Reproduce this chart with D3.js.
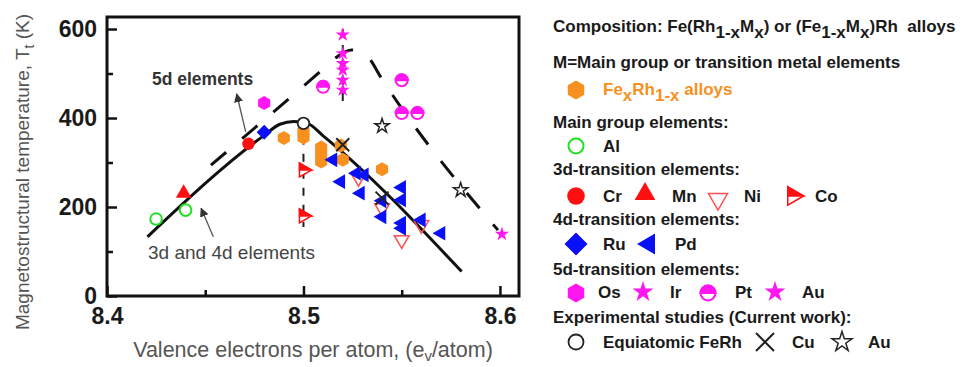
<!DOCTYPE html>
<html>
<head>
<meta charset="utf-8">
<script src="https://cdn.jsdelivr.net/npm/d3@7"></script>
<style>
  body { margin: 0; background: #fff; }
  svg { display: block; font-family: "Liberation Sans", Arial, sans-serif; }
</style>
</head>
<body>
<div></div>
<script>
const w = 965;
const h = 367;

// ---- data (valence electrons per atom, temperature K) ----
const feRhData = [[8.49, 355], [8.5, 370], [8.5, 356], [8.509, 334], [8.509, 318], [8.509, 302], [8.519, 338], [8.52, 306], [8.54, 285]];
const alData = [[8.425, 173], [8.44, 193]];
const crData = [[8.472, 342]];
const mnData = [[8.439, 231]];
const niData = [[8.528, 266], [8.54, 198], [8.55, 126], [8.56, 160]];
const coData = [[8.5, 283], [8.5, 180]];
const ruData = [[8.48, 368]];
const pdData = [[8.515, 306], [8.519, 257], [8.527, 276], [8.531, 272], [8.529, 231], [8.54, 214], [8.54, 178], [8.55, 244], [8.55, 216], [8.55, 164], [8.55, 152], [8.56, 171], [8.57, 141]];
const osData = [[8.48, 434]];
const irData = [[8.52, 587], [8.52, 545], [8.52, 523], [8.52, 508], [8.52, 485], [8.52, 463]];
const ptData = [[8.51, 470], [8.55, 485], [8.55, 411], [8.558, 411]];
const auData = [[8.601, 139]];
const equiData = [[8.5, 388]];
const cuData = [[8.52, 340], [8.54, 220]];
const auExpData = [[8.54, 382], [8.58, 238]];

// guide lines
const fit34d = [[8.4206, 133], [8.48, 361], [8.488, 386], [8.495, 392], [8.502, 388], [8.51, 360], [8.5805, 55]];
const fit5d = [[8.4529, 294], [8.51, 510], [8.517, 537], [8.5245, 553], [8.5286, 549], [8.5327, 538], [8.5396, 490], [8.599, 148]];
const coLine = [[8.5, 358], [8.5, 155]];
const irLine = [[8.52, 600], [8.52, 432]];

const xTicks = [8.4, 8.5, 8.6];
const xMinor = [8.45, 8.55];
const yTicks = [0, 200, 400, 600];
const yMinor = [100, 300, 500];

const orange = "#f7901e";
const red = "#ff1010";
const blue = "#0a10f5";
const magenta = "#ff16f0";
const green = "#22e022";

const svg = d3.select("div").append("svg").attr("width", w).attr("height", h);

const x = d3.scaleLinear().domain([8.4, 8.6097]).range([107, 519]);
const y = d3.scaleLinear().domain([0, 627]).range([296, 17]);

function shapePath(shape, r) {
  const p = d3.path();
  const poly = (pts) => {
    pts.forEach((q, i) => (i ? p.lineTo(q[0], q[1]) : p.moveTo(q[0], q[1])));
    p.closePath();
  };
  const ring = (n, start) =>
    d3.range(n).map((k) => {
      const a = ((start + (k * 360) / n) * Math.PI) / 180;
      return [r * Math.cos(a), r * Math.sin(a)];
    });
  switch (shape) {
    case "circle": p.moveTo(r, 0); p.arc(0, 0, r, 0, 2 * Math.PI); break;
    case "hex": poly(ring(6, -90)); break;
    case "up": poly(ring(3, -90)); break;
    case "down": poly(ring(3, 90)); break;
    case "left": poly(ring(3, 180)); break;
    case "right": poly(ring(3, 0)); break;
    case "diamond": poly([[0, -r], [r, 0], [0, r], [-r, 0]]); break;
    case "star": return d3.symbol(d3.symbolStar, (r * r) / 0.8908)();
    case "x": p.moveTo(-r, -r); p.lineTo(r, r); p.moveTo(-r, r); p.lineTo(r, -r); break;
  }
  return p.toString();
}

function halfPath(shape, r) {
  if (shape === "circle") return `M${-r},0A${r},${r} 0 0 1 ${r},0Z`;
  return `M${-r / 2},${-r * 0.866}L${r},0L${-r / 2},0Z`;
}

// style of every series
const series = {
  feRh: { data: feRhData, shape: "hex", r: 7, fill: orange },
  al: { data: alData, shape: "circle", r: 5.8, fill: "none", stroke: green, sw: 2 },
  cr: { data: crData, shape: "circle", r: 6.2, fill: red },
  mn: { data: mnData, shape: "up", r: 9, fill: red },
  ni: { data: niData, shape: "down", r: 8.5, fill: "none", stroke: "#ff5050", sw: 1.5 },
  co: { data: coData, shape: "right", r: 8, fill: "#fff", stroke: red, sw: 1.5, half: red },
  ru: { data: ruData, shape: "diamond", r: 7.5, fill: blue },
  pd: { data: pdData, shape: "left", r: 8.5, fill: blue },
  os: { data: osData, shape: "hex", r: 7, fill: magenta },
  ir: { data: irData, shape: "star", r: 7.5, fill: magenta },
  pt: { data: ptData, shape: "circle", r: 6, fill: "#fff", stroke: magenta, sw: 2, half: magenta },
  au: { data: auData, shape: "star", r: 7.5, fill: magenta },
  equi: { data: equiData, shape: "circle", r: 5.8, fill: "#fff", stroke: "#222", sw: 1.8 },
  cu: { data: cuData, shape: "x", r: 6.5, fill: "none", stroke: "#222", sw: 2 },
  auExp: { data: auExpData, shape: "star", r: 7.5, fill: "none", stroke: "#222", sw: 1.5 },
};

function drawMarker(g, s, r) {
  g.append("path")
    .attr("d", shapePath(s.shape, r))
    .attr("fill", s.fill)
    .attr("stroke", s.stroke || "none")
    .attr("stroke-width", s.sw || 0)
    .attr("stroke-linejoin", "miter");
  if (s.half) {
    g.append("path").attr("d", halfPath(s.shape, r)).attr("fill", s.half)
      .attr("stroke", s.stroke).attr("stroke-width", s.sw);
  }
}

// ---- axes ----
const fontTick = "bold 23px 'Liberation Sans', Arial, sans-serif";

const xAxis = d3.axisBottom(x).tickValues(xTicks).tickSize(-10).tickPadding(12).tickFormat(d3.format(".1f"));
svg.append("g")
  .attr("transform", "translate(0,296)")
  .call(xAxis)
  .call((g) => g.select(".domain").remove())
  .call((g) => g.selectAll("line").attr("stroke", "#111").attr("stroke-width", 2.5))
  .call((g) => g.selectAll("text").style("font", fontTick).attr("fill", "#1a1a1a"));
svg.append("g")
  .attr("transform", "translate(0,296)")
  .call(d3.axisBottom(x).tickValues(xMinor).tickSize(-6).tickFormat(""))
  .call((g) => g.select(".domain").remove())
  .call((g) => g.selectAll("line").attr("stroke", "#111").attr("stroke-width", 2.5));

const yAxis = d3.axisLeft(y).tickValues(yTicks).tickSize(-10).tickPadding(10);
svg.append("g")
  .attr("transform", "translate(107,0)")
  .call(yAxis)
  .call((g) => g.select(".domain").remove())
  .call((g) => g.selectAll("line").attr("stroke", "#111").attr("stroke-width", 2.5))
  .call((g) => g.selectAll("text").style("font", fontTick).attr("fill", "#1a1a1a"));
svg.append("g")
  .attr("transform", "translate(107,0)")
  .call(d3.axisLeft(y).tickValues(yMinor).tickSize(-6).tickFormat(""))
  .call((g) => g.select(".domain").remove())
  .call((g) => g.selectAll("line").attr("stroke", "#111").attr("stroke-width", 2.5));

svg.append("rect")
  .attr("x", x.range()[0]).attr("y", y.range()[1])
  .attr("width", x.range()[1] - x.range()[0])
  .attr("height", y.range()[0] - y.range()[1])
  .attr("fill", "none").attr("stroke", "#111").attr("stroke-width", 3);

// axis titles
const yTitle = svg.append("text")
  .attr("transform", "translate(29,172) rotate(-90)")
  .attr("text-anchor", "middle")
  .attr("fill", "#555")
  .style("font-size", "19px");
yTitle.append("tspan").text("Magnetostructural temperature, T");
yTitle.append("tspan").attr("dy", 5).style("font-size", "14px").text("t");
yTitle.append("tspan").attr("dy", -5).text(" (K)");

const xTitle = svg.append("text")
  .attr("x", 313).attr("y", 357)
  .attr("text-anchor", "middle")
  .attr("fill", "#555")
  .style("font-size", "21.5px");
xTitle.append("tspan").text("Valence electrons per atom, (e");
xTitle.append("tspan").attr("dy", 4).style("font-size", "15px").text("v");
xTitle.append("tspan").attr("dy", -4).text("/atom)");

// ---- guide lines ----
const line = d3.line().x((d) => x(d[0])).y((d) => y(d[1])).curve(d3.curveMonotoneX);
const vline = d3.line().x((d) => x(d[0])).y((d) => y(d[1]));

svg.append("path").attr("d", vline(coLine)).attr("fill", "none")
  .attr("stroke", "#222").attr("stroke-width", 2).attr("stroke-dasharray", "8,9");
svg.append("path").attr("d", vline(irLine)).attr("fill", "none")
  .attr("stroke", "#222").attr("stroke-width", 2).attr("stroke-dasharray", "8,8");
svg.append("path").attr("d", line(fit34d)).attr("fill", "none")
  .attr("stroke", "#111").attr("stroke-width", 3);
svg.append("path").attr("d", line(fit5d)).attr("fill", "none")
  .attr("stroke", "#111").attr("stroke-width", 3).attr("stroke-dasharray", "20,21");

// ---- markers ----
const order = ["feRh", "al", "mn", "cr", "ru", "os", "co", "ni", "pd", "pt", "ir", "au", "equi", "cu", "auExp"];
order.forEach((key) => {
  const s = series[key];
  s.data.forEach((d) => {
    const g = svg.append("g").attr("transform", `translate(${x(d[0])},${y(d[1])})`);
    drawMarker(g, s, s.r);
  });
});

// ---- annotations ----
svg.append("defs").append("marker")
  .attr("id", "head").attr("viewBox", "0 0 10 10")
  .attr("refX", 9).attr("refY", 5)
  .attr("markerWidth", 7).attr("markerHeight", 7)
  .attr("orient", "auto")
  .append("path").attr("d", "M0,0L10,5L0,10Z").attr("fill", "#333");

const arrows = [
  [[8.4706, 369], [8.466, 454]],
  [[8.4541, 133], [8.4479, 197]],
];
arrows.forEach((a) => {
  svg.append("line")
    .attr("x1", x(a[0][0])).attr("y1", y(a[0][1]))
    .attr("x2", x(a[1][0])).attr("y2", y(a[1][1]))
    .attr("stroke", "#555").attr("stroke-width", 1.3)
    .attr("marker-end", "url(#head)");
});
svg.append("text").attr("x", x(8.4229)).attr("y", y(474))
  .attr("fill", "#333").style("font", "bold 17.5px 'Liberation Sans', Arial, sans-serif")
  .text("5d elements");
svg.append("text").attr("x", x(8.4209)).attr("y", y(83))
  .attr("fill", "#444").style("font-size", "19px")
  .text("3d and 4d elements");

// ---- legend ----
const lg = svg.append("g").style("font", "bold 17px 'Liberation Sans', Arial, sans-serif").attr("fill", "#1a1a1a");

function subText(xp, yp, parts, color) {
  const t = lg.append("text").attr("x", xp).attr("y", yp).style("white-space", "pre");
  if (color) t.attr("fill", color);
  parts.forEach((p) => {
    if (p.sub) t.append("tspan").attr("dy", 6).style("font-size", "17px").text(p.sub);
    else t.append("tspan").attr("dy", p.up ? -6 : 0).text(p.t);
  });
}

subText(553, 32, [
  { t: "Composition: Fe(Rh" }, { sub: "1-x" }, { t: "M", up: 1 }, { sub: "x" },
  { t: ") or (Fe", up: 1 }, { sub: "1-x" }, { t: "M", up: 1 }, { sub: "x" }, { t: ")Rh  alloys", up: 1 },
]);

const headers = [
  [68, "M=Main group or transition metal elements"],
  [128, "Main group elements:"],
  [175, "3d-transition elements:"],
  [225, "4d-transition elements:"],
  [275, "5d-transition elements:"],
  [323, "Experimental studies (Current work):"],
];
headers.forEach((d) => lg.append("text").attr("x", 553).attr("y", d[0]).text(d[1]));

const legendItems = [
  // key, symbol x, symbol y, radius, label, label x, label baseline
  ["feRh", 576, 90, 9.5, null, 0, 0],
  ["al", 576, 146, 7.5, "Al", 603, 152],
  ["cr", 576, 196, 8.8, "Cr", 603, 202],
  ["mn", 645, 194, 12, "Mn", 672, 202],
  ["ni", 718, 199, 11, "Ni", 744, 202],
  ["co", 793, 196, 10.5, "Co", 815, 202],
  ["ru", 576, 244, 11.5, "Ru", 603, 250],
  ["pd", 649, 244, 12, "Pd", 675, 250],
  ["os", 576, 293, 9.5, "Os", 598, 298],
  ["ir", 643, 292, 11, "Ir", 670, 298],
  ["pt", 708, 293, 7.5, "Pt", 735, 298],
  ["au", 775, 292, 11, "Au", 802, 298],
  ["equi", 576, 342, 7.5, "Equiatomic FeRh", 603, 348],
  ["cu", 765, 342, 9, "Cu", 792, 348],
  ["auExp", 842, 342, 10.5, "Au", 868, 348],
];
legendItems.forEach((d) => {
  const g = lg.append("g").attr("transform", `translate(${d[1]},${d[2]})`);
  drawMarker(g, series[d[0]], d[3]);
  if (d[4]) lg.append("text").attr("x", d[5]).attr("y", d[6]).text(d[4]);
});
subText(603, 95, [{ t: "Fe" }, { sub: "x" }, { t: "Rh", up: 1 }, { sub: "1-x" }, { t: " alloys", up: 1 }], orange);
</script>
</body>
</html>
